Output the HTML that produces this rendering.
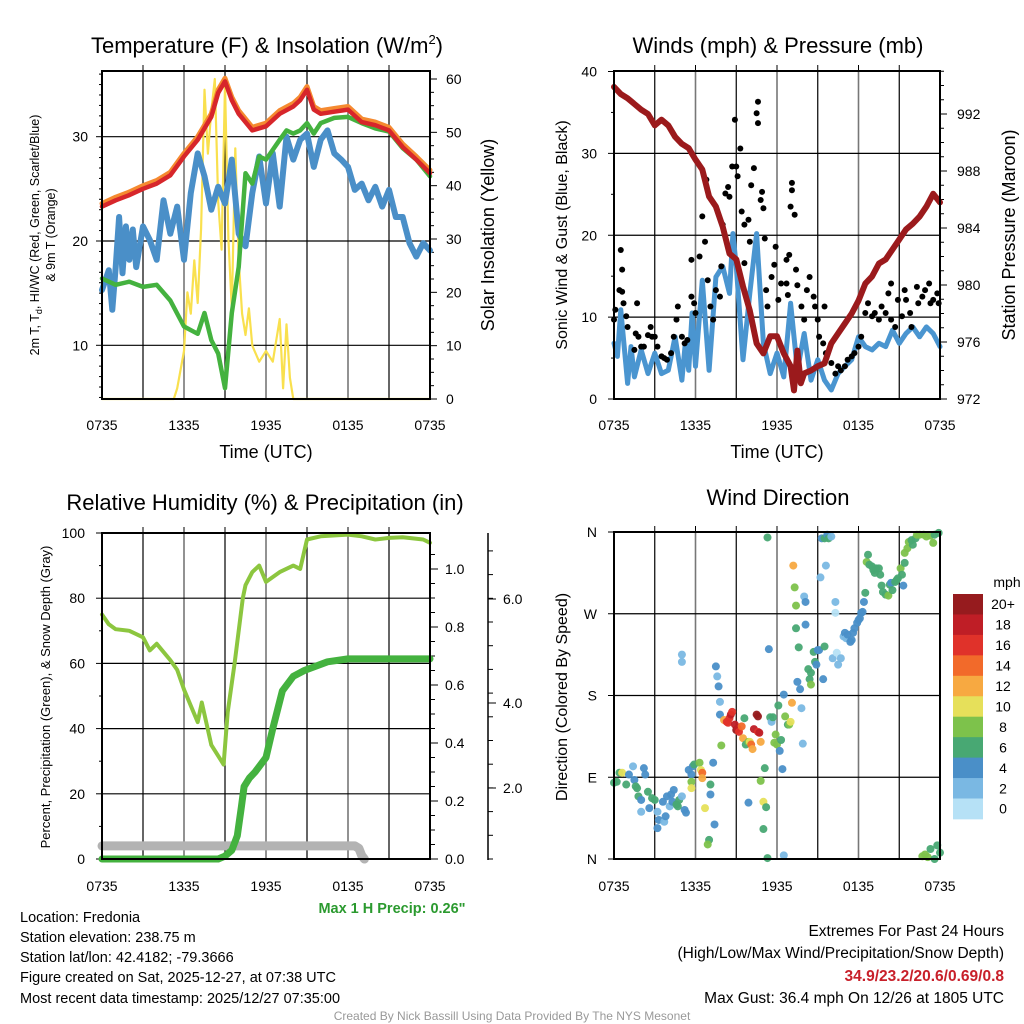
<!DOCTYPE html>
<html><head><meta charset="utf-8"><style>
body{margin:0;background:#fff;}
svg{display:block;font-family:"Liberation Sans",sans-serif;}
</style></head><body>
<svg id="chart" width="1024" height="1024" viewBox="0 0 1024 1024" xmlns="http://www.w3.org/2000/svg">
<rect width="1024" height="1024" fill="#fff"/>
<g id="layer"></g>
<!-- titles -->
<text x="267" y="53" font-size="22" text-anchor="middle">Temperature (F) &amp; Insolation (W/m<tspan font-size="13" dy="-9">2</tspan><tspan dy="9">)</tspan></text>
<text x="778" y="53" font-size="22" text-anchor="middle">Winds (mph) &amp; Pressure (mb)</text>
<text x="265" y="510" font-size="22" text-anchor="middle">Relative Humidity (%) &amp; Precipitation (in)</text>
<text x="778" y="505" font-size="22" text-anchor="middle">Wind Direction</text>
<!-- axis titles -->
<text transform="translate(39,235) rotate(-90)" font-size="12.5" text-anchor="middle">2m T, T<tspan font-size="9" dy="3">d</tspan><tspan dy="-3">, HI/WC (Red, Green, Scarlet/Blue)</tspan></text>
<text transform="translate(55,235) rotate(-90)" font-size="12.5" text-anchor="middle">&amp; 9m T (Orange)</text>
<text transform="translate(494,235) rotate(-90)" font-size="18" text-anchor="middle">Solar Insolation (Yellow)</text>
<text transform="translate(567,235) rotate(-90)" font-size="16" text-anchor="middle">Sonic Wind &amp; Gust (Blue, Black)</text>
<text transform="translate(1015,235) rotate(-90)" font-size="18" text-anchor="middle">Station Pressure (Maroon)</text>
<text transform="translate(50,697) rotate(-90)" font-size="13" text-anchor="middle">Percent, Precipitation (Green), &amp; Snow Depth (Gray)</text>
<text transform="translate(567,697) rotate(-90)" font-size="16" text-anchor="middle">Direction (Colored By Speed)</text>
<text x="266" y="458" font-size="18" text-anchor="middle">Time (UTC)</text>
<text x="777" y="458" font-size="18" text-anchor="middle">Time (UTC)</text>
<text x="392" y="913" font-size="14.5" font-weight="bold" fill="#2b9a2f" text-anchor="middle">Max 1 H Precip: 0.26"</text>
<g font-size="14.5">
<text x="20" y="922">Location: Fredonia</text>
<text x="20" y="942">Station elevation: 238.75 m</text>
<text x="20" y="962">Station lat/lon: 42.4182; -79.3666</text>
<text x="20" y="982">Figure created on Sat, 2025-12-27, at 07:38 UTC</text>
<text x="20" y="1003">Most recent data timestamp: 2025/12/27 07:35:00</text>
</g>
<g font-size="15.5" text-anchor="end">
<text x="1004" y="936">Extremes For Past 24 Hours</text>
<text x="1004" y="958">(High/Low/Max Wind/Precipitation/Snow Depth)</text>
<text x="1004" y="981" fill="#c8202a" font-weight="bold">34.9/23.2/20.6/0.69/0.8</text>
<text x="1004" y="1003">Max Gust: 36.4 mph On 12/26 at 1805 UTC</text>
</g>
<text x="512" y="1020" font-size="12" fill="#999" text-anchor="middle">Created By Nick Bassill Using Data Provided By The NYS Mesonet</text>
</svg>
<script>
// ---------- data ----------
const xTickLabels=["0735","1335","1935","0135","0735"];
const tempHours=[0,1,2,3,4,5,6,7,8,8.5,9,9.5,10,11,12,13,14,14.5,15,15.5,16,17,18,19,20,21,22,23,24];
const tempT=[23.3,23.9,24.4,25.0,25.5,26.3,28.1,29.7,31.9,34.2,35.3,33.5,32.2,30.6,31.0,32.2,32.9,33.5,34.5,32.6,32.2,32.4,32.6,31.4,31.1,30.6,29.0,27.8,26.5];
const temp9m=[23.6,24.2,24.7,25.3,25.8,26.6,28.4,30.0,32.2,34.5,35.6,33.8,32.5,30.9,31.3,32.5,33.2,33.8,34.8,32.9,32.5,32.7,32.9,31.7,31.4,30.9,29.3,28.1,26.8];
const tdHours=[0,1,2,3,4,5,6,7,7.5,8,8.5,9,9.5,10,10.5,11,11.5,12,13,13.5,14,14.5,15,15.5,16,17,18,19,20,21,22,23,24];
const tempTd=[16.4,15.8,16.1,15.6,15.8,14.3,11.8,11.1,13.1,10.5,9.2,5.9,13.1,17.5,26.5,25.5,28.1,27.8,29.7,30.6,30.3,30.6,31.3,30.3,31.3,31.8,31.9,31.3,30.8,30.5,28.9,27.8,26.2];
const wcHours=[0,0.5,0.75,1,1.25,1.5,1.75,2,2.25,2.5,3,3.5,4,4.5,5,5.5,6,6.5,7,7.5,8,8.5,9,9.5,10,10.5,11,11.5,12,12.5,13,13.5,14,14.5,15,15.5,16,16.5,17,17.5,18,18.5,19,19.5,20,20.5,21,21.5,22,22.5,23,23.5,24];
const tempWC=[15.3,17.2,13.4,17.5,22.3,16.9,21.4,18.2,21.1,17.5,21.4,20.1,18.2,23.9,20.7,23.3,18.2,24.6,28.4,26.2,23.0,25.2,23.6,27.8,20.7,19.5,24.6,28.1,23.6,28.4,23.3,30.0,27.8,29.7,30.3,27.1,29.7,30.6,28.4,27.8,27.1,24.9,25.5,23.9,25.2,23.3,24.9,22.3,22.3,19.8,18.5,19.8,19.1];
const solHours=[0,5,5.25,5.5,6,6.25,6.5,6.75,7,7.25,7.5,7.75,8,8.25,8.5,8.75,9,9.25,9.5,9.75,10,10.25,10.5,10.75,11,11.5,12,12.5,13,13.25,13.5,13.75,14,24];
const solar=[0,0,0,2,9,20,16,26,18,32,58,46,54,60,37,28,59,30,17,47,26,16,12,17,10,7,9,7,15,2,14,4,0,0];
const presHours=[0,0.5,1,1.5,2,2.5,3,3.5,4,4.5,5,5.5,6,6.5,7,7.5,8,8.5,9,9.5,10,10.5,11,11.5,12,12.5,13,13.25,13.5,13.75,14,14.5,15,15.5,16,16.5,17,17.5,18,18.5,19,19.5,20,20.5,21,21.5,22,22.5,23,23.5,24];
const pressure=[993.9,993.4,993.1,992.7,992.3,992.0,991.2,991.6,991.2,990.4,989.9,989.6,988.8,988.1,986.2,985.5,984.1,982.2,981.8,979.9,978.2,975.9,975.2,976.4,976.4,975.2,974.3,972.6,975.4,973.1,973.8,974.0,974.3,974.5,975.9,976.6,977.3,978.0,978.9,980.1,980.6,981.5,981.8,982.5,983.2,983.9,984.3,984.8,985.5,986.4,985.8];
const windHours=[0,0.25,0.5,0.75,1,1.25,1.5,2,2.5,3,3.5,4,4.5,5,5.25,5.5,5.75,6,6.5,7,7.5,8,8.5,8.75,9,9.5,10,10.5,11,11.5,12,12.5,13,13.5,14,14.5,15,15.5,16,16.5,17,17.5,18,18.5,19,19.5,20,20.5,21,21.5,22,22.5,23,23.5,24];
const windSpeed=[6.8,5.2,10.9,6.4,1.9,6.4,2.7,6.0,3.1,5.6,3.1,3.5,7.6,2.3,6.8,3.5,10.5,4.0,14.5,3.5,14.9,16.2,12.9,20.2,16.2,4.8,12.9,20.2,6.8,3.1,5.6,2.7,11.7,3.5,8.0,2.3,4.8,2.3,1.1,3.1,4.0,4.8,7.6,6.4,6.0,6.8,6.4,8.4,6.8,8.0,8.8,7.6,8.8,8.0,6.4];
const gustHours=[0,0.1,0.5,0.6,0.4,0.6,0.7,0.9,1.0,1.5,1.7,1.6,1.8,2.0,2.2,2.5,2.7,2.8,3.0,3.2,3.5,3.7,3.9,4.2,4.4,4.6,4.7,5.0,5.2,5.4,5.7,5.7,5.9,6.0,6.3,6.5,6.7,6.8,6.9,7.1,7.3,7.5,7.8,7.9,8.0,8.2,8.4,8.5,8.7,8.9,9.0,9.1,9.3,9.4,9.6,9.6,9.9,10.0,10.1,10.3,10.5,10.6,10.6,10.8,10.9,11.0,11.1,11.2,11.3,11.6,11.8,11.9,12.1,12.3,12.7,12.8,12.7,12.9,13.1,13.1,13.0,13.3,13.4,13.5,13.8,14.0,14.2,14.4,14.7,14.8,15.0,15.1,15.5,15.4,15.6,16.0,16.3,16.5,16.7,17.0,17.2,17.5,17.7,18.0,18.2,18.5,18.7,19.0,19.2,19.5,19.7,20.0,20.2,20.4,20.4,20.7,20.9,21.2,21.4,21.5,21.8,21.9,22.3,22.4,22.7,22.9,23.2,23.3,23.5,23.8,23.9];
const gustSpeed=[9.7,10.9,18.2,15.8,13.3,13.1,11.7,10.1,8.8,6.0,11.7,8.0,7.6,6.4,6.4,7.8,8.8,7.6,7.6,6.4,5.2,5.0,4.8,5.6,7.6,9.7,11.3,7.6,6.8,7.2,17.0,12.5,11.7,10.5,17.4,22.3,19.2,26.8,14.5,11.3,9.7,13.3,12.5,16.2,21.3,25.1,25.9,24.7,28.4,34.1,28.4,27.2,30.6,22.9,21.3,16.6,21.9,19.2,26.1,28.2,34.9,36.3,33.7,24.3,25.3,23.3,19.6,13.3,11.3,14.9,16.4,18.6,12.1,14.1,14.1,12.7,17.0,17.6,26.4,25.5,23.5,22.5,15.8,13.9,11.3,9.7,13.3,14.9,12.5,11.3,9.7,7.6,11.3,6.8,5.6,4.4,3.1,4.0,3.5,4.0,4.8,5.2,5.6,6.4,7.6,10.5,11.7,10.1,10.5,9.7,11.3,10.5,12.9,14.1,9.7,8.8,12.1,10.1,13.3,12.1,10.5,8.8,13.7,11.7,12.5,13.3,14.1,11.7,12.1,12.9,11.7];
const rhHours=[0,0.5,1,2,3,3.5,4,5,5.5,6,7,7.3,8,8.9,9.2,9.7,10.3,10.5,11,11.5,12,13,14,14.5,15,16,18,19,20,21,22,23.5,24];
const rh=[75,72,70.5,70,68,64,66,61,58,52,42,48,35,29,45,60,80,84,88,90,85,88,90,89,98,99,99.5,99,98,98.5,98.7,98,97];
const precipHours=[0,8.5,9,9.5,9.9,10.2,10.4,10.8,11.2,12,12.5,13.2,14,14.8,16.5,18,24];
const precip=[0,0,0.01,0.03,0.08,0.18,0.25,0.28,0.30,0.35,0.45,0.58,0.63,0.65,0.68,0.69,0.69];
const snowHours=[0,18.5,18.8,19.0,19.2];
const snowDepth=[0.37,0.37,0.3,0.1,0];
const dirHours=[0.0,0.4,0.6,0.2,0.9,1.4,1.1,1.5,1.6,1.7,1.8,2.0,2.2,2.3,2.5,2.6,2.0,2.8,3.0,3.2,3.3,3.2,3.6,3.7,3.8,3.9,4.1,4.2,4.3,4.4,4.6,4.7,4.8,5.0,5.2,5.3,5.0,5.0,5.5,5.7,5.8,5.7,5.9,6.3,6.4,6.5,6.5,5.7,6.7,7.1,7.1,7.0,6.9,7.3,7.4,7.5,7.6,7.7,7.8,7.8,7.9,8.1,8.3,8.5,8.6,8.7,8.4,8.9,9.0,9.1,9.2,9.4,9.5,9.6,9.7,9.9,10.0,10.1,10.2,10.5,10.6,10.3,10.6,10.7,10.8,10.8,11.0,11.1,11.2,11.0,11.3,11.3,11.4,11.5,11.6,11.7,11.9,11.8,12.0,12.2,12.1,12.3,12.4,12.5,12.6,12.8,12.9,13.0,13.1,13.2,13.3,13.4,13.4,13.6,13.5,13.7,13.8,13.9,14.0,14.1,14.1,9.9,12.5,14.3,14.4,14.5,14.5,14.7,14.8,14.9,15.0,15.1,15.2,15.3,15.5,15.4,15.5,15.6,15.7,15.8,16.0,16.1,16.3,16.3,16.4,16.5,16.7,16.9,17.0,17.1,17.2,17.4,17.5,17.6,17.7,17.9,18.0,18.1,18.2,18.3,18.4,18.5,18.6,18.7,18.8,19.0,19.1,19.2,19.3,19.5,19.6,19.7,19.8,20.0,20.2,20.3,20.4,20.5,20.7,20.8,20.9,21.1,21.2,21.3,21.4,21.4,21.6,21.7,21.9,22.0,22.2,22.3,22.5,22.8,23.0,23.3,23.5,23.6,23.9,22.7,22.9,23.1,23.3,23.6,23.8,24.0];
const dirDeg=[84,95,95,85,82,102,93,87,80,78,69,65,100,93,74,56,52,67,65,52,43,34,63,41,47,69,58,71,63,76,60,58,65,69,54,51,225,217,98,93,102,85,104,106,98,95,89,78,56,82,71,21,16,106,38,212,201,190,173,159,125,153,151,155,159,162,150,148,142,144,140,146,133,155,126,129,129,126,121,159,157,143,140,139,129,86,63,100,57,33,1,354,231,156,151,156,137,128,126,119,169,131,99,181,157,148,148,151,172,323,299,279,254,233,195,187,166,127,289,283,258,62,4,209,198,192,205,228,217,214,230,230,310,353,234,198,353,323,357,353,355,221,283,271,227,214,221,245,249,243,247,239,241,249,254,260,263,265,271,272,283,293,327,335,324,322,318,315,320,320,313,301,294,291,290,302,304,296,305,307,309,320,313,301,326,337,342,349,351,346,353,357,357,357,355,356,348,357,359,3,5,2,11,0,15,7];
const dirSpeed=[6,6,10,6,6,2,4,4,6,6,6,4,4,4,6,4,2,6,6,2,4,4,4,2,4,4,2,4,4,4,6,6,6,2,4,4,2,2,4,4,4,8,6,8,10,14,12,10,10,6,4,6,8,4,4,4,2,4,2,4,8,12,16,16,18,16,16,18,20,18,16,14,12,6,6,8,10,14,12,20,20,18,16,18,12,8,10,6,6,6,6,6,4,6,2,6,8,8,8,4,6,6,4,4,8,6,8,10,12,12,8,8,6,6,4,4,2,2,2,4,4,4,2,6,6,8,6,6,6,4,4,4,2,4,6,4,6,2,4,6,2,2,2,0,0,2,2,2,4,2,4,4,4,4,4,4,4,4,4,4,4,6,8,6,6,6,6,6,6,6,6,6,6,6,8,6,4,6,6,6,6,8,6,4,6,8,8,8,6,6,6,8,8,8,8,8,8,6,6,8,8,8,6,6,6,6];
const speedBins=[0,2,4,6,8,10,12,14,16,18,20];
const speedLabels=["0","2","4","6","8","10","12","14","16","18","20+"];
const speedColors=["#b6e1f6","#7ab8e3","#4a8fc8","#48a873","#7dc24b","#e6e05a","#f7a941","#f26a2a","#e0322a","#bf1e26","#961b1e"];

// ---------- helpers ----------
const NS="http://www.w3.org/2000/svg";
const layer=document.getElementById('layer');
function mk(tag,attrs,parent){const e=document.createElementNS(NS,tag);for(const k in attrs)e.setAttribute(k,attrs[k]);(parent||layer).appendChild(e);return e;}
function lin(d0,d1,r0,r1){return v=>r0+(v-d0)*(r1-r0)/(d1-d0);}
function pathD(xs,ys,fx,fy){return xs.map((h,i)=>(i?'L':'M')+fx(h).toFixed(1)+','+fy(ys[i]).toFixed(1)).join('');}

function frame(L,T,R,B,hLines,fy,label){
  const g=mk('g',{});
  
  
  for(let h=3;h<24;h+=3){const x=L+(R-L)*h/24;
    const l=mk('line',{x1:x,y1:T,x2:x,y2:B,stroke:h%6?'#000':'#777','stroke-width':h%6?1.2:1.6},g);
    
    mk('line',{x1:x,y1:T,x2:x,y2:T-6,stroke:'#000','stroke-width':1},g);}
  hLines.forEach(v=>{const y=fy(v);const l=mk('line',{x1:L,y1:y,x2:R,y2:y,stroke:'#000','stroke-width':1.2},g);
    });
  return g;
}
function border(L,T,R,B){mk('rect',{x:L,y:T,width:R-L,height:B-T,fill:'none',stroke:'#000','stroke-width':2});}
function xTicks(L,R,y,label){xTickLabels.forEach((t,i)=>{const x=L+(R-L)*i/4;
  const e=mk('text',{x:x,y:y,'font-size':14,'text-anchor':'middle'});e.textContent=t;
  
  });}
function yLabels(vals,texts,fy,x,anchor,label){vals.forEach((v,i)=>{const e=mk('text',{x:x,y:fy(v)+5,'font-size':14,'text-anchor':anchor});e.textContent=texts[i];
  
  });}
function series(xs,ys,fx,fy,color,w,name){const p=mk('path',{d:pathD(xs,ys,fx,fy),fill:'none',stroke:color,'stroke-width':w,'stroke-linejoin':'round','stroke-linecap':'round'});
  
  return p;}

// ---------- panel 1: temperature ----------
{const L=102,R=430,T=71,B=399;
 const fx=lin(0,24,L,R),fy=lin(10,30,345.3,136.7),fs=lin(0,60,399,79);
 frame(L,T,R,B,[10,20,30],fy,'temperature');
 for(let v=0;v<=60;v+=2.5){const y=fs(v);if(y<T)continue;mk('line',{x1:R,y1:y,x2:R+(v%10?4:7),y2:y,stroke:'#000','stroke-width':1});}
 for(let v=5;v<=36;v++){const y=fy(v);if(y>B||y<T)continue;mk('line',{x1:L,y1:y,x2:L-(v%10?3:6),y2:y,stroke:'#000','stroke-width':1});}
 series(solHours,solar,fx,fs,'#f9e04e',2.2,'solar-insolation-line');
 series(wcHours,tempWC,fx,fy,'#4a8fc8',6,'wind-chill-line');
 series(tdHours,tempTd,fx,fy,'#44b23f',4.5,'dewpoint-line');
 series(tempHours,temp9m,fx,fy,'#f58a30',5,'temp-9m-line');
 series(tempHours,tempT,fx,fy,'#d7262b',4.5,'temp-2m-line');
 border(L,T,R,B);
 yLabels([10,20,30],["10","20","30"],fy,88,'end','temperature-y');
 yLabels([0,10,20,30,40,50,60],["0","10","20","30","40","50","60"],fs,446,'start','insolation-y');
 xTicks(L,R,430,'temperature');}

// ---------- panel 2: winds ----------
{const L=614,R=940,T=71,B=399;
 const fx=lin(0,24,L,R),fy=lin(0,40,399,71.5),fp=lin(972,992,399,114);
 frame(L,T,R,B,[10,20,30],fy,'winds');
 for(let v=972;v<=995;v+=1){const y=fp(v);if(y<T)continue;mk('line',{x1:R,y1:y,x2:R+(v%4?4:7),y2:y,stroke:'#000','stroke-width':1});}
 for(let v=0;v<=40;v+=5){const y=fy(v);mk('line',{x1:L,y1:y,x2:L-(v%10?3:6),y2:y,stroke:'#000','stroke-width':1});}
 series(windHours,windSpeed,fx,fy,'#4a95d0',5,'sonic-wind-line');
 gustHours.forEach((h,i)=>{const c=mk('circle',{cx:fx(h),cy:fy(gustSpeed[i]),r:3,fill:'#000'});
   
   });
 series(presHours,pressure,fx,fp,'#9b1a1c',6,'pressure-line');
 border(L,T,R,B);
 yLabels([0,10,20,30,40],["0","10","20","30","40"],fy,597,'end','wind-y');
 yLabels([972,976,980,984,988,992],["972","976","980","984","988","992"],fp,957,'start','pressure-y');
 xTicks(L,R,430,'winds');}

// ---------- panel 3: RH & precip ----------
{const L=102,R=430,T=533,B=859;
 const fx=lin(0,24,L,R),fy=lin(0,100,859,533),fpr=lin(0,0.2,859,801),fsn=lin(0,2,859,788);
 frame(L,T,R,B,[20,40,60,80],fy,'humidity');
 for(let v=0;v<=1.1;v+=0.05){const y=fpr(v+1e-9);if(y<T)continue;mk('line',{x1:R,y1:y,x2:R+(Math.round(v*20)%4?5:8),y2:y,stroke:'#000','stroke-width':1});}
 for(let v=0;v<=100;v+=10){const y=fy(v);mk('line',{x1:L,y1:y,x2:L-(v%20?3:6),y2:y,stroke:'#000','stroke-width':1});}
 mk('line',{x1:488,y1:533,x2:488,y2:860,stroke:'#000','stroke-width':1.5});
 for(let y=859;y>=540;y-=23.7){mk('line',{x1:488,y1:y,x2:493,y2:y,stroke:'#000','stroke-width':1});}
 [[599,"6.0"],[703,"4.0"],[788,"2.0"]].forEach(a=>{mk('line',{x1:488,y1:a[0],x2:496,y2:a[0],stroke:'#000','stroke-width':1});const e=mk('text',{x:503,y:a[0]+5,'font-size':14});e.textContent=a[1];
   
   });
 series(snowHours,snowDepth,fx,fsn,'#b3b3b3',9,'snow-depth-line');
 series(rhHours,rh,fx,fy,'#8cc63f',4,'relative-humidity-line');
 series(precipHours,precip,fx,fpr,'#44b23f',7,'precipitation-line');
 border(L,T,R,B);
 yLabels([0,20,40,60,80,100],["0","20","40","60","80","100"],fy,85,'end','humidity-y');
 yLabels([0,0.2,0.4,0.6,0.8,1.0],["0.0","0.2","0.4","0.6","0.8","1.0"],fpr,445,'start','precip-y');
 xTicks(L,R,891,'humidity');}

// ---------- panel 4: direction ----------
{const L=614,R=940,T=532,B=859;
 const fx=lin(0,24,L,R),fy=lin(0,360,859,532);
 frame(L,T,R,B,[90,180,270],fy,'direction');
 for(let v=0;v<=360;v+=90){mk('line',{x1:L,y1:fy(v),x2:L-6,y2:fy(v),stroke:'#000','stroke-width':1});}
 dirHours.forEach((h,i)=>{const bin=Math.min(10,Math.floor(dirSpeed[i]/2));
   const c=mk('circle',{cx:fx(h),cy:fy(dirDeg[i]),r:4,fill:speedColors[bin],'fill-opacity':0.95});
   
   });
 border(L,T,R,B);
 yLabels([0,90,180,270,360],["N","E","S","W","N"],fy,597,'end','direction-y');
 xTicks(L,R,891,'direction');
 mk('line',{x1:R,y1:T,x2:R,y2:B,stroke:'#000','stroke-width':2});
 const cb=mk('g',{});
 
 
 const top=594,h=20.45;
 speedBins.forEach((b,i)=>{const idx=10-i;const y=top+i*h;
   const r=mk('rect',{x:953,y:y,width:30,height:h+0.4,fill:speedColors[idx]},cb);
   
   
   const t=mk('text',{x:1003,y:y+h/2+5,'font-size':14,'text-anchor':'middle'},cb);t.textContent=speedLabels[idx];
   
   });
 const m=mk('text',{x:1007,y:587,'font-size':14,'text-anchor':'middle'},cb);m.textContent='mph';
 
 }
</script>
</body></html>
